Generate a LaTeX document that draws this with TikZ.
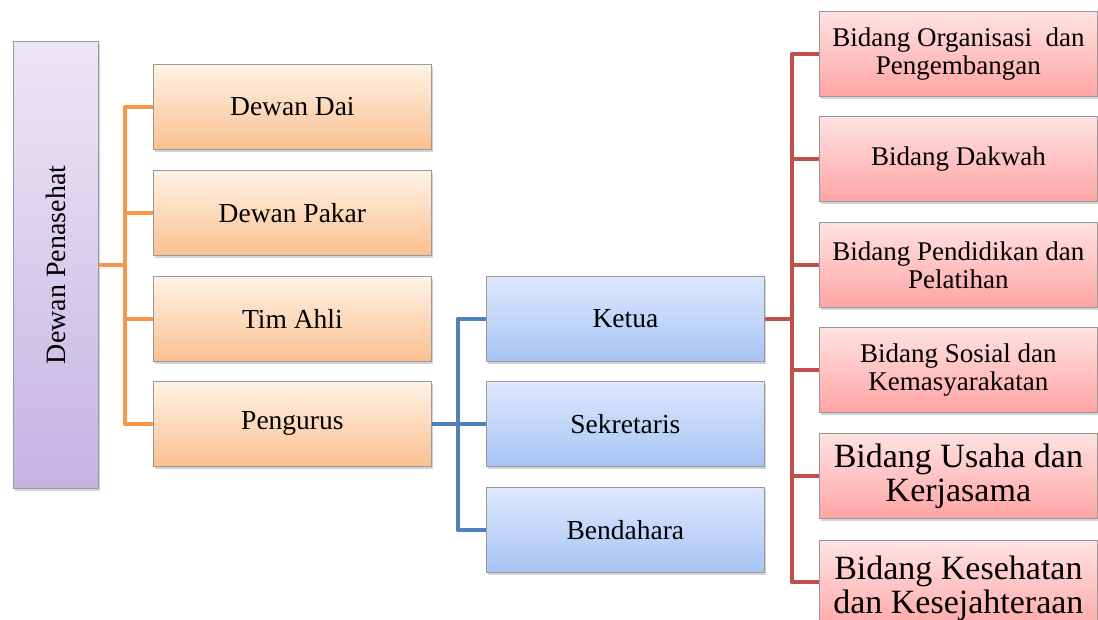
\documentclass[tikz,border=0pt]{standalone}
\usepackage{fontspec}
\setmainfont{Liberation Serif}
\usetikzlibrary{shadows}
\definecolor{oline}{HTML}{F79646}
\definecolor{bline}{HTML}{4F81BD}
\definecolor{rline}{HTML}{C0504D}
\tikzset{
  basebox/.style={draw=black!40, line width=0.8pt, anchor=north west, minimum width=278pt, minimum height=85pt, inner sep=2pt, align=center,
    drop shadow={opacity=0.35, shadow xshift=2pt, shadow yshift=-2.5pt}, font=\fontsize{27.5}{30}\selectfont},
  obox/.style={basebox, top color=orange!10!white, bottom color={rgb,255:red,250;green,192;blue,144}},
  bbox/.style={basebox, top color={rgb,255:red,222;green,232;blue,252}, bottom color={rgb,255:red,166;green,196;blue,245}},
  rbox/.style={basebox, top color={rgb,255:red,255;green,226;blue,226}, bottom color={rgb,255:red,255;green,164;blue,164}},
  pbox/.style={basebox, minimum width=85pt, minimum height=447pt, top color={rgb,255:red,236;green,230;blue,247}, bottom color={rgb,255:red,196;green,180;blue,226}},
  small/.style={font=\fontsize{27}{28}\selectfont},
  big/.style={font=\fontsize{34}{34}\selectfont},
  conn/.style={line width=4.5pt, line join=round},
}
\begin{document}
\begin{tikzpicture}[x=1pt,y=-1pt]
\useasboundingbox (0,0) rectangle (1098,620);
% left column
\node[pbox] (dp) at (13,41) {};
\node[rotate=90, font=\fontsize{28}{30}\selectfont] (dptext) at (dp.center) {Dewan Penasehat};
% orange
\node[obox] (dai) at (153,64) {Dewan Dai};
\node[obox] (pakar) at (153,170) {Dewan Pakar};
\node[obox] (tim) at (153,276) {Tim Ahli};
\node[obox] (peng) at (153,381) {Pengurus};
% blue
\node[bbox] (ketua) at (486,276) {Ketua};
\node[bbox] (sek) at (486,381) {Sekretaris};
\node[bbox] (bend) at (486,487) {Bendahara};
% red
\node[rbox, small] (org) at (819,11) {Bidang Organisasi\ \ dan\\Pengembangan};
\node[rbox, small] (dak) at (819,116) {Bidang Dakwah};
\node[rbox, small] (pend) at (819,222) {Bidang Pendidikan dan\\Pelatihan};
\node[rbox, small] (sos) at (819,327) {Bidang Sosial dan\\Kemasyarakatan};
\node[rbox, big] (usaha) at (819,433) {Bidang Usaha dan\\Kerjasama};
\node[rbox, big, minimum height=95pt] (kes) at (819,540) {Bidang Kesehatan\\dan Kesejahteraan};
% orange connectors
\coordinate (ob) at (125,0);
\draw[conn, oline] (dp.east) -- (ob |- dp.east);
\draw[conn, oline] (dai.west) -- (ob |- dai.west) -- (ob |- peng.west) -- (peng.west);
\draw[conn, oline] (ob |- pakar.west) -- (pakar.west);
\draw[conn, oline] (ob |- tim.west) -- (tim.west);
% blue connectors
\coordinate (bb) at (458,0);
\draw[conn, bline] (peng.east) -- (bb |- peng.east);
\draw[conn, bline] (ketua.west) -- (bb |- ketua.west) -- (bb |- bend.west) -- (bend.west);
\draw[conn, bline] (bb |- sek.west) -- (sek.west);
% red connectors
\coordinate (rb) at (792,0);
\coordinate (kesj) at (792,582);
\draw[conn, rline] (ketua.east) -- (rb |- ketua.east);
\draw[conn, rline] (org.west) -- (rb |- org.west) -- (kesj) -- (kes.west |- kesj);
\draw[conn, rline] (rb |- dak.west) -- (dak.west);
\draw[conn, rline] (rb |- pend.west) -- (pend.west);
\draw[conn, rline] (rb |- sos.west) -- (sos.west);
\draw[conn, rline] (rb |- usaha.west) -- (usaha.west);
\end{tikzpicture}
\end{document}
